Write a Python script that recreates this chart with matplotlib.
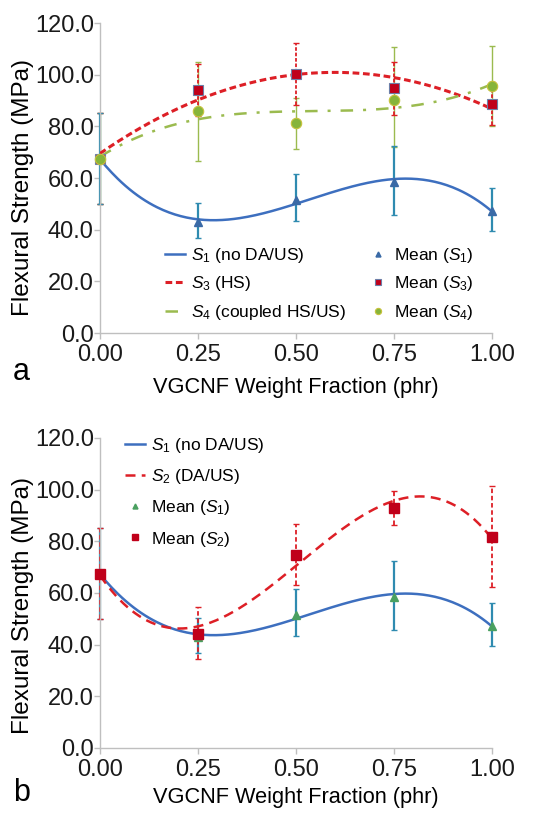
import numpy as np
import matplotlib.pyplot as plt

plt.rcParams['font.family'] = ['Liberation Sans', 'DejaVu Sans']
plt.rcParams['mathtext.fontset'] = 'custom'
plt.rcParams['mathtext.rm'] = 'Liberation Sans'
plt.rcParams['mathtext.it'] = 'Liberation Sans:italic'

# ---- data ----
phr = np.array([0.00, 0.25, 0.50, 0.75, 1.00])

s1_mean = np.array([67.5, 43.0, 51.5, 58.6, 47.3])
s1_lo = np.array([50.0, 36.7, 43.2, 45.7, 39.6])
s1_hi = np.array([85.0, 50.2, 61.4, 72.5, 56.0])

s2_mean = np.array([67.5, 44.3, 74.7, 92.9, 81.7])
s2_lo = np.array([50.0, 34.5, 63.0, 86.5, 62.3])
s2_hi = np.array([85.0, 54.6, 86.8, 99.4, 101.3])

s3_mean = np.array([67.5, 94.2, 100.2, 94.7, 88.8])
s3_lo = np.array([50.0, 84.0, 88.3, 84.4, 80.5])
s3_hi = np.array([85.0, 104.0, 112.4, 105.0, 97.0])

s4_mean = np.array([67.5, 85.8, 81.2, 90.2, 95.6])
s4_lo = np.array([50.0, 66.7, 71.1, 72.1, 80.0])
s4_hi = np.array([85.0, 105.0, 91.0, 110.6, 111.1])

yticks = [0, 20, 40, 60, 80, 100, 120]
xticks = [0.00, 0.25, 0.50, 0.75, 1.00]

BLUE = '#3d6fbf'
TEAL = '#2f8bb0'
RED = '#dd1f26'
DRED = '#c0001a'
GREEN = '#9bbb4f'
DGREEN = '#86b43a'
GRID = '#bfbfbf'

xs = np.linspace(0, 1, 200)


def trend(y, deg=3):
    # polynomial trend line like in the original spreadsheet
    return np.polyval(np.polyfit(phr, y, deg), xs)


def errbar(ax, m, lo, hi, color, lw, dash=None):
    eb = ax.errorbar(phr, m, yerr=np.vstack([m - lo, hi - m]), fmt='none',
                     ecolor=color, elinewidth=lw, capsize=2, capthick=1.0,
                     zorder=2)
    for c in eb[2]:
        c.set_clip_on(False)
        if dash is not None:
            c.set_linestyle(dash)
    for c in eb[1]:
        c.set_clip_on(False)
    return eb


def style_axes(ax, letter, ylab_y, xpad, letter_y):
    ax.set_xlim(0, 1.0)
    ax.set_ylim(0, 120)
    ax.set_xticks(xticks)
    ax.set_xticklabels(['%.2f' % v for v in xticks])
    ax.set_yticks(yticks)
    ax.set_yticklabels(['%.1f' % v for v in yticks])
    for s in ['top', 'right']:
        ax.spines[s].set_visible(False)
    for s in ['left', 'bottom']:
        ax.spines[s].set_color(GRID)
        ax.spines[s].set_linewidth(1.0)
    ax.tick_params(axis='both', colors=GRID, labelcolor='#1a1a1a',
                   labelsize=17, length=4, width=1.0, direction='out', pad=0.5)
    ax.tick_params(axis='x', pad=4)
    ax.set_xlabel('VGCNF Weight Fraction (phr)', fontsize=15.7, labelpad=xpad)
    ax.set_ylabel('Flexural Strength (MPa)', fontsize=17.5)
    ax.yaxis.set_label_coords(-0.168, ylab_y)
    ax.text(-0.2, letter_y, letter, transform=ax.transAxes, fontsize=22,
            ha='center', va='center')


fig = plt.figure(figsize=(5.6, 8.13), dpi=100)
ax1 = fig.add_axes([0.1786, 0.5904, 0.70, 0.3813])
ax2 = fig.add_axes([0.1786, 0.0800, 0.70, 0.3813])

# ---- panel a ----
errbar(ax1, s4_mean, s4_lo, s4_hi, GREEN, 1.0)
errbar(ax1, s3_mean, s3_lo, s3_hi, RED, 1.3, (0, (2, 1)))
errbar(ax1, s1_mean, s1_lo, s1_hi, TEAL, 1.6)

l1, = ax1.plot(xs, trend(s1_mean), color=BLUE, lw=1.8, zorder=3,
               label='$S_1$ (no DA/US)')
l3, = ax1.plot(xs, trend(s3_mean, 2), color=RED, lw=2.2, ls=(0, (2.2, 1.2)),
               zorder=3, label='$S_3$ (HS)')
l4, = ax1.plot(xs, trend(s4_mean), color=GREEN, lw=1.8,
               ls=(0, (5, 4, 1.2, 4)), zorder=3,
               label='$S_4$ (coupled HS/US)')
m1, = ax1.plot(phr, s1_mean, ls='none', marker='^', ms=6, color='#3a6aa6',
               mec='#3a6aa6', zorder=4, clip_on=False, label='Mean ($S_1$)')
m3, = ax1.plot(phr, s3_mean, ls='none', marker='s', ms=7.5, color=DRED,
               mec='#6c7fa8', mew=0.8, zorder=4, clip_on=False,
               label='Mean ($S_3$)')
m4, = ax1.plot(phr, s4_mean, ls='none', marker='o', ms=7.5, color=DGREEN,
               mec='#c6c23c', mew=0.8, zorder=4, clip_on=False,
               label='Mean ($S_4$)')

style_axes(ax1, 'a', 0.468, 8, -0.126)
ax1.legend(handles=[l1, l3, l4, m1, m3, m4], ncol=2, loc='upper left',
           bbox_to_anchor=(0.166, 0.282), frameon=False, fontsize=12.5,
           borderpad=0, borderaxespad=0,
           handlelength=1.15, handletextpad=0.35, columnspacing=1.25,
           labelspacing=0.55, markerscale=0.6)

# ---- panel b ----
errbar(ax2, s1_mean, s1_lo, s1_hi, TEAL, 1.6)
errbar(ax2, s2_mean, s2_lo, s2_hi, RED, 1.3, (0, (2.5, 1.5)))

k1, = ax2.plot(xs, trend(s1_mean), color=BLUE, lw=1.8, zorder=3,
               label='$S_1$ (no DA/US)')
k2, = ax2.plot(xs, trend(s2_mean), color=RED, lw=1.8, ls=(0, (4, 2.5)),
               zorder=3, label='$S_2$ (DA/US)')
n1, = ax2.plot(phr, s1_mean, ls='none', marker='^', ms=6, color='#4aa060',
               zorder=4, clip_on=False, label='Mean ($S_1$)')
n2, = ax2.plot(phr, s2_mean, ls='none', marker='s', ms=7.5, color=DRED,
               mec=DRED, zorder=4, clip_on=False, label='Mean ($S_2$)')

style_axes(ax2, 'b', 0.458, 4.5, -0.145)
ax2.legend(handles=[k1, k2, n1, n2], loc='upper left',
           bbox_to_anchor=(0.064, 1.006), frameon=False, fontsize=12.5,
           borderpad=0, borderaxespad=0,
           handlelength=1.15, handletextpad=0.35, labelspacing=0.7,
           markerscale=0.6)

fig.savefig('out.png', dpi=100)
